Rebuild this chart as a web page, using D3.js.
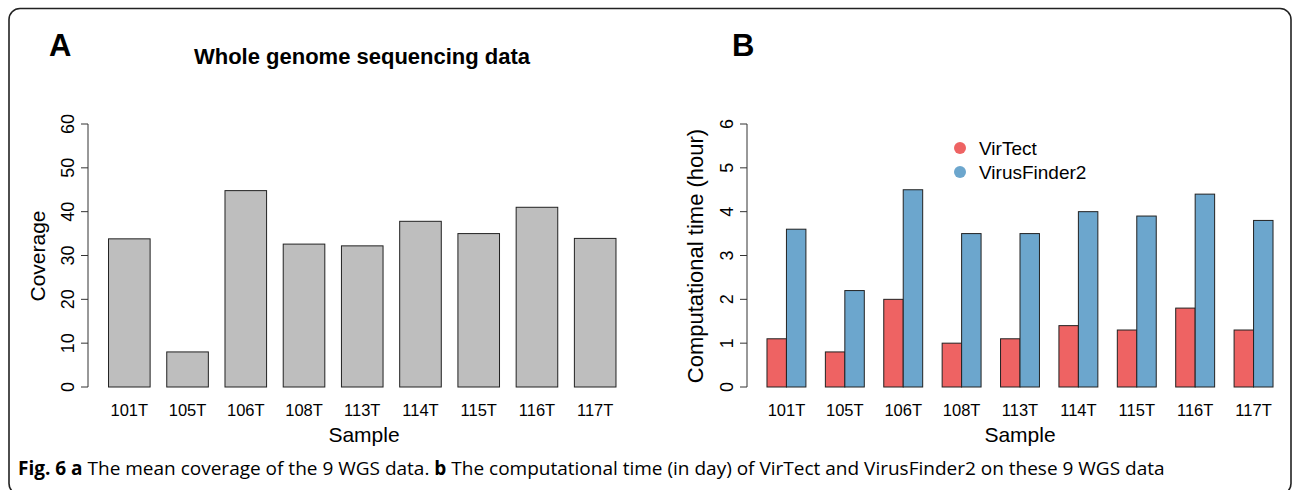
<!DOCTYPE html>
<html>
<head>
<meta charset="utf-8">
<script src="https://cdn.jsdelivr.net/npm/d3@7"></script>
<style>
  html, body { margin: 0; padding: 0; background: #fff; }
  svg { display: block; }
  text { font-family: "Liberation Sans", Arial, sans-serif; fill: #000; }
</style>
</head>
<body>
<svg id="chart" width="1292" height="490"></svg>
<script>
// ---- data ----
const samples = ["101T", "105T", "106T", "108T", "113T", "114T", "115T", "116T", "117T"];
const coverage = [33.8, 8.0, 44.8, 32.6, 32.2, 37.8, 35.0, 41.0, 33.9];
const seriesNames = ["VirTect", "VirusFinder2"];
const virTectHours = [1.1, 0.8, 2.0, 1.0, 1.1, 1.4, 1.3, 1.8, 1.3];
const virusFinder2Hours = [3.6, 2.2, 4.5, 3.5, 3.5, 4.0, 3.9, 4.4, 3.8];
const coverageTicks = [0, 10, 20, 30, 40, 50, 60];
const hourTicks = [0, 1, 2, 3, 4, 5, 6];
const seriesColors = ["#EE6363", "#6CA6CD"];

const svg = d3.select("#chart");

// frame (rounded border, partly cut off)
svg.append("rect")
  .attr("x", 9).attr("y", 8.5)
  .attr("width", 1282).attr("height", 486)
  .attr("rx", 11).attr("ry", 11)
  .attr("fill", "none").attr("stroke", "#222").attr("stroke-width", 1.6);

function yAxisR(g, scale, ticks, x) {
  const a = g.append("g");
  a.append("line")
    .attr("x1", x).attr("x2", x)
    .attr("y1", scale(ticks[0])).attr("y2", scale(ticks[ticks.length - 1]))
    .attr("stroke", "#333").attr("stroke-width", 1);
  a.selectAll("line.tick").data(ticks).enter().append("line")
    .attr("class", "tick")
    .attr("x1", x - 7).attr("x2", x)
    .attr("y1", d => scale(d)).attr("y2", d => scale(d))
    .attr("stroke", "#333").attr("stroke-width", 1);
  a.selectAll("text").data(ticks).enter().append("text")
    .attr("transform", d => `translate(${x - 14},${scale(d)}) rotate(-90)`)
    .attr("text-anchor", "middle")
    .attr("font-size", 18)
    .text(d => d);
}

// ---------- Panel A ----------
const gA = svg.append("g");
const yA = d3.scaleLinear().domain([0, 60]).range([387, 124]);
const xA = d3.scaleBand().domain(samples).range([100.2, 624.3])
  .paddingInner(0.4 / 1.4).paddingOuter(0.2 / 1.4);

gA.selectAll("rect.bar").data(samples).enter().append("rect")
  .attr("class", "bar")
  .attr("x", d => xA(d))
  .attr("y", (d, i) => yA(coverage[i]))
  .attr("width", xA.bandwidth())
  .attr("height", (d, i) => yA(0) - yA(coverage[i]))
  .attr("fill", "#BEBEBE").attr("stroke", "#222").attr("stroke-width", 1);

yAxisR(gA, yA, coverageTicks, 88);

gA.selectAll("text.xl").data(samples).enter().append("text")
  .attr("class", "xl")
  .attr("x", d => xA(d) + xA.bandwidth() / 2).attr("y", 416)
  .attr("text-anchor", "middle").attr("font-size", 16.5)
  .text(d => d);

gA.append("text").attr("x", 364).attr("y", 442)
  .attr("text-anchor", "middle").attr("font-size", 21).text("Sample");
gA.append("text")
  .attr("transform", "translate(45,256) rotate(-90)")
  .attr("text-anchor", "middle").attr("font-size", 21).text("Coverage");
gA.append("text").attr("x", 49).attr("y", 56)
  .attr("font-size", 31).attr("font-weight", "bold").text("A");
gA.append("text").attr("x", 362).attr("y", 64)
  .attr("text-anchor", "middle").attr("font-size", 22).attr("font-weight", "bold")
  .text("Whole genome sequencing data");

// ---------- Panel B ----------
const gB = svg.append("g");
const yB = d3.scaleLinear().domain([0, 6]).range([387, 124]);
const xB = d3.scaleBand().domain(samples).range([757.25, 1282.75])
  .paddingInner(1 / 3).paddingOuter(1 / 6);
const xBi = d3.scaleBand().domain(seriesNames).range([0, xB.bandwidth()]).padding(0);
const seriesValues = [virTectHours, virusFinder2Hours];

const groups = gB.selectAll("g.grp").data(samples).enter().append("g")
  .attr("class", "grp")
  .attr("transform", d => `translate(${xB(d)},0)`);
groups.selectAll("rect").data((d, i) => seriesNames.map((s, k) => ({ s, k, v: seriesValues[k][i] })))
  .enter().append("rect")
  .attr("x", d => xBi(d.s))
  .attr("y", d => yB(d.v))
  .attr("width", xBi.bandwidth())
  .attr("height", d => yB(0) - yB(d.v))
  .attr("fill", d => seriesColors[d.k]).attr("stroke", "#222").attr("stroke-width", 1);

yAxisR(gB, yB, hourTicks, 747);

gB.selectAll("text.xl").data(samples).enter().append("text")
  .attr("class", "xl")
  .attr("x", d => xB(d) + xB.bandwidth() / 2).attr("y", 416)
  .attr("text-anchor", "middle").attr("font-size", 16.5)
  .text(d => d);

gB.append("text").attr("x", 1020).attr("y", 442)
  .attr("text-anchor", "middle").attr("font-size", 21).text("Sample");
gB.append("text")
  .attr("transform", "translate(703,256) rotate(-90)")
  .attr("text-anchor", "middle").attr("font-size", 22).text("Computational time (hour)");
gB.append("text").attr("x", 732).attr("y", 56)
  .attr("font-size", 31).attr("font-weight", "bold").text("B");

// legend
const leg = gB.selectAll("g.leg").data(seriesNames).enter().append("g")
  .attr("class", "leg")
  .attr("transform", (d, i) => `translate(960,${148 + i * 24})`);
leg.append("circle").attr("r", 6).attr("fill", (d, i) => seriesColors[i]);
leg.append("text").attr("x", 19).attr("y", 6.5).attr("font-size", 19).text(d => d);

// ---------- Caption ----------
const cap = svg.append("text").attr("x", 18).attr("y", 475)
  .style("font-family", "'Open Sans', 'Noto Sans', sans-serif").attr("font-size", 16);
const parts = [
  ["Fig. 6", true], [" a", true], [" The mean coverage of the 9 WGS data. ", false],
  ["b", true], [" The computational time (in day) of VirTect and VirusFinder2 on these 9 WGS data", false]
];
parts.forEach(([t, b]) => {
  cap.append("tspan").attr("font-weight", b ? "bold" : "normal")
    .style("white-space", "pre").text(t);
});
cap.attr("xml:space", "preserve");
const w = cap.node().getComputedTextLength();
cap.attr("font-size", 16 * 1147 / w);
</script>
</body>
</html>
